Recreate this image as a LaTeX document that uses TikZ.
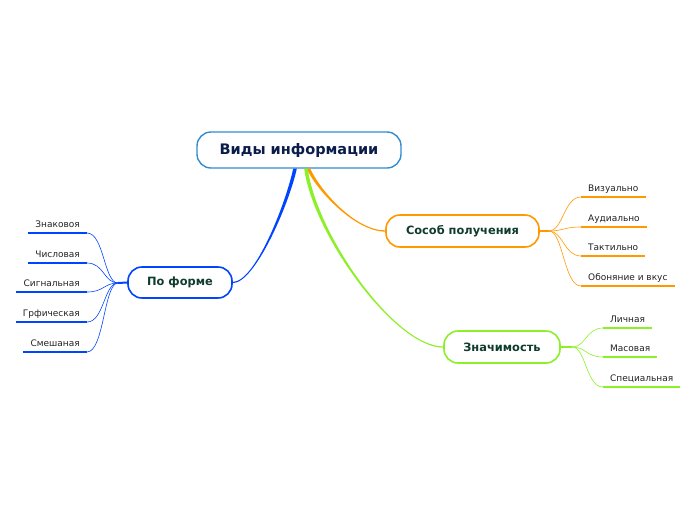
\documentclass[tikz,border=0pt]{standalone}
\usepackage{fontspec}
\setmainfont{DejaVu Sans}
\usetikzlibrary{calc}
\definecolor{cblue}{RGB}{0,68,255}
\definecolor{corange}{RGB}{255,153,0}
\definecolor{cgreen}{RGB}{140,240,40}
\definecolor{croot}{RGB}{50,140,210}
\definecolor{tdark}{RGB}{15,60,45}
\definecolor{tnavy}{RGB}{10,28,74}
\definecolor{tleaf}{RGB}{34,34,34}
% tapered connector: colour, start, control 1, control 2, end, end-offset
\newcommand\mytaper[6]{%
  \fill[#1] ($(#2)+(-1.8,0)$) .. controls ($(#3)+(-1.8,0)$) and ($(#4)+(0,#6)$) .. ($(#5)+(0,#6)$)
    -- ($(#5)+(0,-#6)$) .. controls ($(#4)+(0,-#6)$) and ($(#3)+(1.8,0)$) .. ($(#2)+(1.8,0)$) -- cycle;}
\begin{document}
\begin{tikzpicture}[x=1pt,y=-1pt,
  box/.style={draw, rounded corners=14pt, line width=1.6pt, fill=white,
    font=\bfseries\fontsize{11.4}{13}\selectfont, text=tdark, inner sep=0pt},
  leaf/.style={font=\fontsize{9}{10}\selectfont, text=tleaf, inner xsep=7pt,
    inner ysep=0pt, text height=6.5pt, text depth=5pt},
  twig/.style={line width=0.6pt},
  ul/.style={line width=2.4pt},
  trunk/.style={line width=2pt}]
\useasboundingbox (0,0) rectangle (696,520);

% main boxes
\node[box, draw=croot, line width=1.4pt, minimum width=204pt, minimum height=36pt,
  font=\bfseries\fontsize{14.5}{17}\selectfont, text=tnavy] (root) at (299,150) {Виды информации};
\node[box, draw=cblue, minimum width=104pt, minimum height=31pt] (f) at (180,282.5) {По форме};
\node[box, draw=corange, minimum width=153pt, minimum height=32pt] (s) at (462.5,231) {Сособ получения};
\node[box, draw=cgreen, minimum width=116pt, minimum height=32pt] (z) at (502,347) {Значимость};

% trunk start points and control points
\coordinate (fa) at ([xshift=-4pt]root.south);
\coordinate (sa) at ([xshift=9.5pt]root.south);
\coordinate (za) at ([xshift=7pt]root.south);
\coordinate (fc1) at (287,205);
\coordinate (fc2) at (255,282.5);
\coordinate (sc1) at (318,190);
\coordinate (sc2) at (355,231);
\coordinate (zc1) at (315,235);
\coordinate (zc2) at (395,347);

% hubs
\coordinate (fh) at (118,283);
\coordinate (sh) at (549,231);
\coordinate (zh) at (572,347);

% trunks
\mytaper{cblue}{fa}{fc1}{fc2}{f.east}{-0.6}
\mytaper{corange}{sa}{sc1}{sc2}{s.west}{0.6}
\mytaper{cgreen}{za}{zc1}{zc2}{z.west}{0.6}
\draw[trunk, cblue] (f.west) -- (fh);
\draw[trunk, corange] (s.east) -- (sh);
\draw[trunk, cgreen] (z.east) -- (zh);

% left leaves
\node[leaf, anchor=south east] (f1) at (87,233) {Знаковоя};
\node[leaf, anchor=south east] (f2) at (87,263) {Числовая};
\node[leaf, anchor=south east] (f3) at (87,292) {Сигнальная};
\node[leaf, anchor=south east] (f4) at (87,322) {Грфическая};
\node[leaf, anchor=south east] (f5) at (87,352) {Смешаная};
\foreach \n in {f1,f2,f3,f4,f5}{
  \draw[twig, cblue] (fh) .. controls +(-14,0) and +(17,0) .. (\n.south east);
  \draw[ul, cblue] (\n.south west) -- (\n.south east);
}

% orange leaves
\node[leaf, anchor=south west] (s1) at (581,197) {Визуально};
\node[leaf, anchor=south west] (s2) at (581,227) {Аудиально};
\node[leaf, anchor=south west] (s3) at (581,256) {Тактильно};
\node[leaf, anchor=south west] (s4) at (581,286) {Обоняние и вкус};
\foreach \n in {s1,s2,s3,s4}{
  \draw[twig, corange] (sh) .. controls +(14,0) and +(-17,0) .. (\n.south west);
  \draw[ul, corange] (\n.south west) -- (\n.south east);
}

% green leaves
\node[leaf, anchor=south west] (z1) at (603,328) {Личная};
\node[leaf, anchor=south west] (z2) at (603,357) {Масовая};
\node[leaf, anchor=south west] (z3) at (603,387) {Специальная};
\foreach \n in {z1,z2,z3}{
  \draw[twig, cgreen] (zh) .. controls +(14,0) and +(-17,0) .. (\n.south west);
  \draw[ul, cgreen] (\n.south west) -- (\n.south east);
}
\end{tikzpicture}
\end{document}
